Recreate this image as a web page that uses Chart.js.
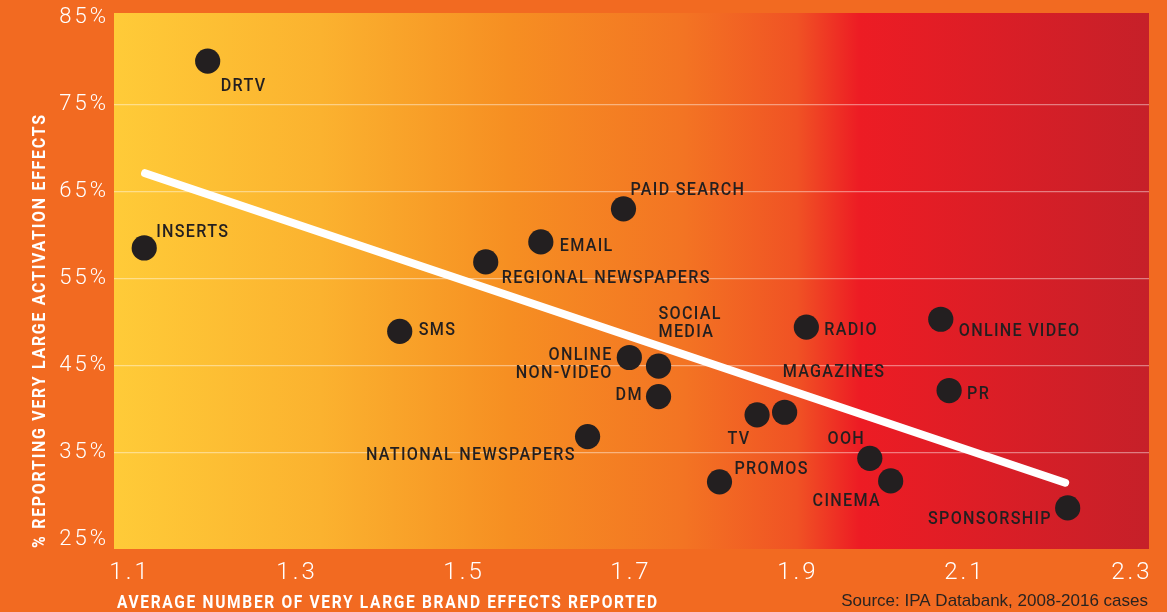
<!DOCTYPE html>
<html>
<head>
<meta charset="utf-8">
<script src="https://cdn.jsdelivr.net/npm/chart.js@4/dist/chart.umd.min.js"></script>
<style>
  html, body { margin: 0; padding: 0; background: #F26A21; }
  #wrap { width: 1167px; height: 612px; }
</style>
</head>
<body>
<div id="wrap"><canvas id="c" width="1167" height="612"></canvas></div>
<script>
// ---- data ----
const categories = ['DRTV','INSERTS','PAID SEARCH','EMAIL','REGIONAL NEWSPAPERS','SMS','ONLINE NON-VIDEO','SOCIAL MEDIA','DM','NATIONAL NEWSPAPERS','PROMOS','RADIO','ONLINE VIDEO','PR','TV','MAGAZINES','OOH','CINEMA','SPONSORSHIP'];
const brandEffects = [1.193, 1.117, 1.691, 1.592, 1.526, 1.423, 1.698, 1.733, 1.733, 1.648, 1.806, 1.910, 2.071, 2.081, 1.851, 1.884, 1.986, 2.011, 2.223];
const activationPct = [80.0, 58.5, 63.0, 59.2, 56.9, 48.9, 45.9, 44.9, 41.4, 36.8, 31.6, 49.4, 50.3, 42.1, 39.3, 39.6, 34.3, 31.7, 28.6];
const trendX = [1.118, 2.220];
const trendY = [67.1, 31.5];
const xTicks = [1.1, 1.3, 1.5, 1.7, 1.9, 2.1, 2.3];
const yTicks = [25, 35, 45, 55, 65, 75, 85];
const xTitle = 'AVERAGE NUMBER OF VERY LARGE BRAND EFFECTS REPORTED';
const yTitle = '% REPORTING VERY LARGE ACTIVATION EFFECTS';
const sourceText = 'Source: IPA Databank, 2008-2016 cases';

// ---- label layout (pixel offsets from point centre) ----
const labelLayout = {
  'DRTV':                {lines:['DRTV'], align:'left', dx:13, dy:23},
  'INSERTS':             {lines:['INSERTS'], align:'left', dx:12, dy:-18},
  'PAID SEARCH':         {lines:['PAID SEARCH'], align:'left', dx:7, dy:-21},
  'EMAIL':               {lines:['EMAIL'], align:'left', dx:19, dy:2},
  'REGIONAL NEWSPAPERS': {lines:['REGIONAL NEWSPAPERS'], align:'left', dx:16, dy:14},
  'SMS':                 {lines:['SMS'], align:'left', dx:19, dy:-3},
  'ONLINE NON-VIDEO':    {lines:['ONLINE','NON-VIDEO'], align:'right', dx:-18, dy:-4.5},
  'SOCIAL MEDIA':        {lines:['SOCIAL','MEDIA'], align:'left', dx:0, dy:-54},
  'DM':                  {lines:['DM'], align:'right', dx:-17, dy:-3},
  'NATIONAL NEWSPAPERS': {lines:['NATIONAL NEWSPAPERS'], align:'right', dx:-13, dy:17},
  'PROMOS':              {lines:['PROMOS'], align:'left', dx:15, dy:-15},
  'RADIO':               {lines:['RADIO'], align:'left', dx:18, dy:1},
  'ONLINE VIDEO':        {lines:['ONLINE VIDEO'], align:'left', dx:18, dy:10},
  'PR':                  {lines:['PR'], align:'left', dx:18, dy:2},
  'TV':                  {lines:['TV'], align:'right', dx:-8, dy:22},
  'MAGAZINES':           {lines:['MAGAZINES'], align:'left', dx:-2, dy:-42},
  'OOH':                 {lines:['OOH'], align:'right', dx:-6, dy:-21},
  'CINEMA':              {lines:['CINEMA'], align:'right', dx:-11, dy:18},
  'SPONSORSHIP':         {lines:['SPONSORSHIP'], align:'right', dx:-17, dy:9}
};

const points = brandEffects.map((x, i) => ({x: x, y: activationPct[i]}));
const trend = trendX.map((x, i) => ({x: x, y: trendY[i]}));

function drawCondensed(ctx, text, x, yc, opts) {
  ctx.save();
  const size = opts.size;
  ctx.font = `${opts.weight} ${size}px ${opts.family}`;
  ctx.letterSpacing = opts.ls + 'px';
  ctx.fillStyle = opts.color;
  ctx.textAlign = 'left';
  ctx.textBaseline = 'alphabetic';
  const nat = ctx.measureText(text).width - opts.ls;
  const sx = opts.width ? opts.width / nat : opts.sx;
  const w = nat * sx;
  let x0 = x;
  if (opts.align === 'right') x0 = x - w;
  else if (opts.align === 'center') x0 = x - w / 2;
  ctx.translate(x0, yc + size * 0.355);
  ctx.scale(sx, 1);
  ctx.fillText(text, 0, 0);
  ctx.restore();
}

const bgPlugin = {
  id: 'bg',
  beforeDraw(chart) {
    const ctx = chart.ctx, a = chart.chartArea;
    ctx.save();
    ctx.fillStyle = '#F26A21';
    ctx.fillRect(0, 0, chart.width, chart.height);
    const g = ctx.createLinearGradient(a.left, 0, a.right, 0);
    g.addColorStop(0.0, '#FFCB38');
    g.addColorStop(0.2, '#FBB22F');
    g.addColorStop(0.38, '#F68F22');
    g.addColorStop(0.55, '#F37423');
    g.addColorStop(0.66, '#F05224');
    g.addColorStop(0.72, '#ED1C24');
    g.addColorStop(1.0, '#C62029');
    ctx.fillStyle = g;
    ctx.fillRect(a.left, a.top, a.right - a.left, a.bottom - a.top);
    ctx.restore();
    ctx.letterSpacing = '3px';
  },
  afterDraw(chart) {
    chart.ctx.letterSpacing = '0px';
  }
};

const labelPlugin = {
  id: 'labels',
  afterDatasetsDraw(chart) {
    const ctx = chart.ctx;
    const meta = chart.getDatasetMeta(0);
    const font = {weight: 500, size: 19, family: 'Roboto, "DejaVu Sans", sans-serif', ls: 1.5, sx: 0.85, color: '#231F20'};
    categories.forEach((name, i) => {
      const el = meta.data[i];
      const L = labelLayout[name];
      L.lines.forEach((line, k) => {
        drawCondensed(ctx, line, el.x + L.dx, el.y + L.dy + k * 18.4, Object.assign({}, font, {align: L.align}));
      });
    });
  },
  afterDraw(chart) {
    const ctx = chart.ctx;
    ctx.letterSpacing = '0px';
    const tf = {weight: 700, size: 18.5, family: 'Roboto, "DejaVu Sans", sans-serif', ls: 2, color: '#FFFFFF'};
    drawCondensed(ctx, xTitle, 117, 601.5, Object.assign({}, tf, {align: 'left', width: 540}));
    ctx.save();
    ctx.translate(38.5, 331.5);
    ctx.rotate(-Math.PI / 2);
    drawCondensed(ctx, yTitle, 0, 0, Object.assign({}, tf, {align: 'center', width: 433}));
    ctx.restore();
    ctx.save();
    ctx.font = '17px "Liberation Sans", Arial, sans-serif';
    ctx.fillStyle = '#2A2320';
    ctx.textAlign = 'right';
    ctx.textBaseline = 'middle';
    ctx.fillText(sourceText, 1148, 601.5);
    ctx.restore();
  }
};

new Chart(document.getElementById('c'), {
  data: {
    datasets: [
      {
        type: 'scatter',
        data: points,
        backgroundColor: '#231F20',
        borderWidth: 0,
        pointRadius: 12.6,
        pointHoverRadius: 12.6,
        order: 0
      },
      {
        type: 'line',
        data: trend,
        borderColor: '#FFFFFF',
        borderWidth: 8,
        borderCapStyle: 'round',
        pointRadius: 0,
        fill: false,
        order: 1
      }
    ]
  },
  options: {
    responsive: false,
    devicePixelRatio: 1,
    animation: false,
    layout: { padding: { top: 13, right: 18, left: 0, bottom: 0 } },
    plugins: { legend: { display: false }, tooltip: { enabled: false } },
    scales: {
      x: {
        type: 'linear',
        min: 1.0808,
        max: 2.3204,
        afterBuildTicks(scale) { scale.ticks = xTicks.map(v => ({value: v})); },
        afterFit(scale) { scale.height = 63; scale.paddingLeft = 0; scale.paddingRight = 0; },
        grid: { display: false, drawTicks: false },
        border: { display: false },
        ticks: {
          color: '#FFFFFF',
          padding: 10,
          maxRotation: 0,
          autoSkip: false,
          font: { family: 'Roboto', weight: 300, size: 24 },
          callback: v => v.toFixed(1)
        }
      },
      y: {
        type: 'linear',
        min: 23.87,
        max: 85.53,
        afterBuildTicks(scale) { scale.ticks = yTicks.map(v => ({value: v})); },
        afterFit(scale) { scale.width = 114; scale.paddingTop = 0; scale.paddingBottom = 0; },
        grid: {
          drawTicks: false,
          lineWidth: 1.3,
          color: ctx => (ctx.tick && (ctx.tick.value === 25 || ctx.tick.value === 85)) ? 'rgba(0,0,0,0)' : 'rgba(255,255,255,0.42)'
        },
        border: { display: false },
        ticks: {
          color: '#FFFFFF',
          padding: 5,
          autoSkip: false,
          font: { family: 'Roboto', weight: 300, size: 22 },
          callback: v => v + '%'
        }
      }
    }
  },
  plugins: [bgPlugin, labelPlugin]
});
</script>
</body>
</html>
